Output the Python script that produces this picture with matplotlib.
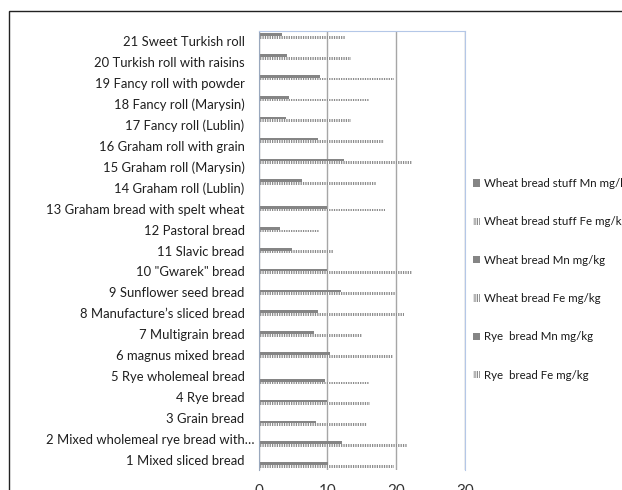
import matplotlib
matplotlib.use("Agg")
import matplotlib.pyplot as plt
import matplotlib.patches as mpatches
import matplotlib.transforms as mtransforms
import numpy as np

# bread samples, bottom to top as they sit on the axis
categories = [
    "1 Mixed sliced bread",
    "2 Mixed wholemeal rye bread with\u2026",
    "3 Grain bread",
    "4 Rye bread",
    "5 Rye wholemeal bread",
    "6 magnus mixed bread",
    "7 Multigrain bread",
    "8 Manufacture\u2019s sliced bread",
    "9 Sunflower seed bread",
    "10 \"Gwarek\" bread",
    "11 Slavic bread",
    "12 Pastoral bread",
    "13 Graham bread with spelt wheat",
    "14 Graham roll (Lublin)",
    "15 Graham roll (Marysin)",
    "16 Graham roll with grain",
    "17 Fancy roll (Lublin)",
    "18 Fancy roll (Marysin)",
    "19 Fancy roll with powder",
    "20 Turkish roll with raisins",
    "21 Sweet Turkish roll",
]
group = ["rye"] * 5 + ["wheat"] * 8 + ["stuff"] * 8
mn = [10.1, 12.1, 8.4, 10.0, 9.6, 10.4, 8.0, 8.6, 12.0, 10.0, 4.9, 3.1, 10.0,
      6.3, 12.4, 8.6, 4.0, 4.5, 8.9, 4.1, 3.4]
fe = [19.7, 21.6, 15.8, 16.2, 16.1, 19.6, 15.1, 21.2, 20.0, 22.3, 10.8, 8.8, 18.4,
      17.0, 22.3, 18.2, 13.4, 16.1, 19.7, 13.5, 12.6]

# series in plotting order (first one sits lowest in each cluster)
series = [
    ("rye", "fe", "Rye  bread Fe mg/kg"),
    ("rye", "mn", "Rye  bread Mn mg/kg"),
    ("wheat", "fe", "Wheat bread Fe mg/kg"),
    ("wheat", "mn", "Wheat bread Mn mg/kg"),
    ("stuff", "fe", "Wheat bread stuff Fe mg/kg"),
    ("stuff", "mn", "Wheat bread stuff Mn mg/kg"),
]

W, H = 622, 490
fig = plt.figure(figsize=(W / 100, H / 100), dpi=100)
plt.rcParams["hatch.linewidth"] = 0.9

# outer chart frame, running off the right and bottom edges
fig.patches.append(mpatches.Rectangle((9 / W, -0.2), 1.2, 1 - 11 / H + 0.2,
                                      transform=fig.transFigure, fill=False,
                                      edgecolor="#222222", lw=1.0))

ax = fig.add_axes([258.5 / W, 1 - 470 / H, (465 - 258.5) / W, (470 - 31) / H])

y = np.arange(len(categories))
h = 1 / 7.5  # Excel-style 150% gap width
handles = []
for i, (grp, elem, label) in enumerate(series):
    vals = [(mn if elem == "mn" else fe)[k] if group[k] == grp else 0
            for k in range(len(categories))]
    offs = -0.4 + h * (i + 0.5)
    if elem == "mn":
        bars = ax.barh(y + offs, vals, height=h, color="#858585", lw=0,
                       label=label)
    else:
        bars = ax.barh(y + offs, vals, height=h, facecolor="white",
                       edgecolor="#8a8a8a", hatch="|" * 7, lw=0, label=label)
    handles.append(bars)

ax.set_xlim(0, 30)
ax.set_ylim(-0.5, len(categories) - 0.5)
ax.set_xticks([0, 10, 20, 30])
ax.set_yticks(y)
ax.set_yticklabels(categories, fontsize=9.4, color="#1f1f1f", family="Lato")
ax.tick_params(axis="x", length=0, pad=10, labelsize=11, labelcolor="#333333")
ax.tick_params(axis="y", length=0, pad=10)
for lab in ax.get_xticklabels():
    lab.set_family("Lato")
# truncated label: the ellipsis hangs past the right edge of the others
lab2 = ax.get_yticklabels()[1]
lab2.set_transform(lab2.get_transform()
                   + mtransforms.ScaledTranslation(0.1, 0, fig.dpi_scale_trans))
ax.xaxis.grid(True, color="#a6a6a6", lw=1)
ax.set_axisbelow(True)
for side in ["top", "right", "bottom"]:
    ax.spines[side].set_color("#b4c7e7")
ax.spines["bottom"].set_visible(False)
ax.spines["left"].set_color("#9aa8bd")

leg = fig.legend(handles[::-1], [s[2] for s in series[::-1]],
                 loc="upper left", bbox_to_anchor=(473 / W, 1 - 178 / H),
                 frameon=False, borderpad=0, borderaxespad=0,
                 labelspacing=2.37, handlelength=0.6,
                 handleheight=0.6, handletextpad=0.35,
                 prop={"family": "Lato", "size": 8.3})
for t in leg.get_texts():
    t.set_color("#1a1a1a")

fig.savefig("out.png", dpi=100)
